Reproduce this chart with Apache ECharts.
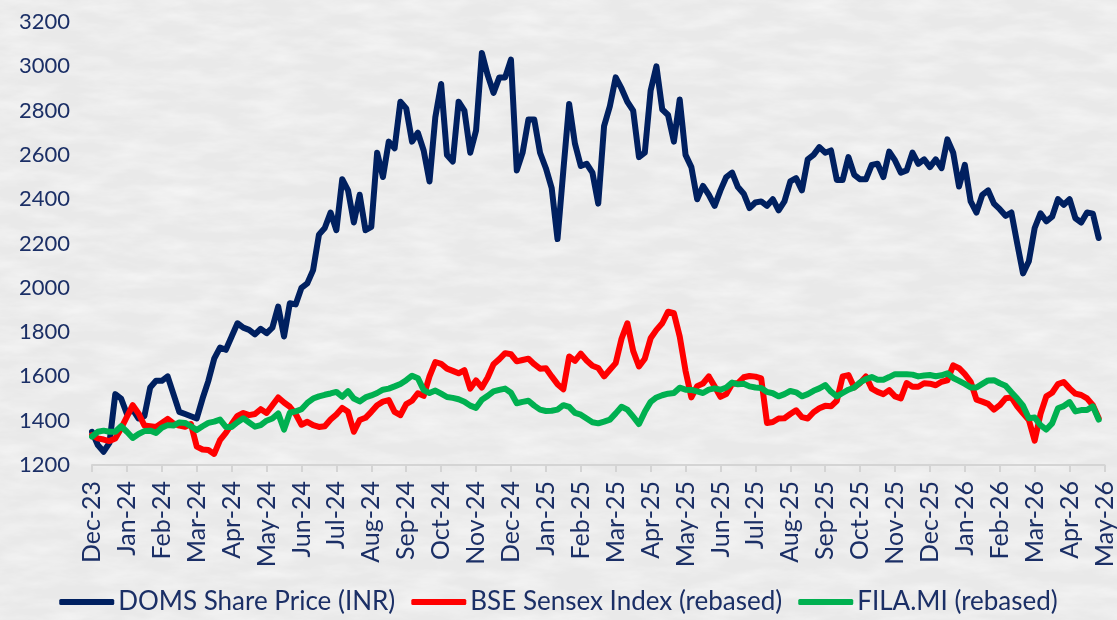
<!DOCTYPE html>
<html>
<head>
<meta charset="utf-8">
<title>DOMS vs Sensex vs FILA</title>
<script src="https://cdn.jsdelivr.net/npm/echarts@6/dist/echarts.min.js"></script>
<style>
    html, body {
        margin: 0;
        padding: 0;
        width: 1117px;
        height: 620px;
        overflow: hidden;
        background-color: #e9e9e9;
        background-image: url("data:image/svg+xml;utf8,<svg xmlns='http://www.w3.org/2000/svg' width='1117' height='620'><filter id='n'><feTurbulence type='fractalNoise' baseFrequency='0.02 0.07' numOctaves='4' seed='7'/><feColorMatrix values='0 0 0 0 1  0 0 0 0 1  0 0 0 0 1  0.9 0 0 0 -0.32'/></filter><rect width='100%' height='100%' filter='url(%23n)'/></svg>");
    }
    #price_chart {
        width: 1117px;
        height: 620px;
    }
</style>
</head>
<body>
<div id="price_chart"></div>
<script>
// ------------------------------------------------------------------------------
//  Data (sampled 6 points per month, starting at the Dec-23 tick)
// ------------------------------------------------------------------------------

var POINTS_PER_MONTH = 6;

var months = ['Dec-23','Jan-24','Feb-24','Mar-24','Apr-24','May-24','Jun-24','Jul-24','Aug-24','Sep-24',
    'Oct-24','Nov-24','Dec-24','Jan-25','Feb-25','Mar-25','Apr-25','May-25','Jun-25','Jul-25',
    'Aug-25','Sep-25','Oct-25','Nov-25','Dec-25','Jan-26','Feb-26','Mar-26','Apr-26','May-26'];

var yTicks = [1200, 3200, 200]; // min, max, step

var seriesNames = ['DOMS Share Price (INR)', 'BSE Sensex Index (rebased)', 'FILA.MI (rebased)'];

var domsPrice = [
    1350,1290,1260,1300,1520,1500,1430,1450,1410,1420,1550,1580,
    1580,1600,1520,1440,1430,1420,1410,1500,1580,1680,1730,1720,
    1780,1840,1820,1810,1790,1815,1795,1820,1915,1780,1930,1925,
    2000,2020,2080,2240,2270,2340,2260,2490,2440,2295,2420,2260,
    2275,2610,2500,2660,2630,2840,2810,2660,2700,2620,2480,2770,
    2920,2600,2570,2840,2800,2610,2710,3060,2960,2880,2950,2950,
    3030,2530,2610,2760,2760,2610,2540,2450,2220,2530,2830,2650,
    2550,2560,2520,2380,2730,2820,2950,2900,2840,2800,2590,2610,
    2890,3000,2805,2780,2660,2850,2600,2545,2400,2460,2420,2370,
    2440,2500,2520,2455,2425,2360,2385,2390,2370,2400,2350,2390,
    2480,2495,2440,2580,2600,2635,2610,2620,2487,2487,2590,2510,
    2490,2490,2555,2560,2500,2615,2575,2520,2530,2610,2560,2580,
    2545,2580,2540,2670,2610,2457,2555,2390,2340,2420,2440,2380,
    2355,2325,2340,2200,2065,2120,2270,2336,2300,2321,2400,2375,
    2400,2314,2295,2340,2335,2225
];

var sensexRebased = [
    1335,1320,1315,1308,1320,1365,1418,1470,1433,1378,1375,1372,
    1390,1408,1388,1378,1373,1385,1283,1270,1268,1250,1312,1345,
    1385,1422,1435,1425,1430,1452,1435,1470,1505,1482,1463,1430,
    1382,1395,1380,1372,1375,1405,1428,1458,1440,1350,1403,1413,
    1440,1470,1486,1493,1440,1425,1475,1490,1524,1512,1600,1665,
    1657,1635,1625,1614,1628,1545,1582,1550,1595,1655,1678,1705,
    1700,1668,1674,1680,1655,1635,1637,1600,1565,1542,1690,1670,
    1703,1672,1648,1638,1600,1630,1660,1770,1840,1715,1645,1680,
    1772,1810,1840,1892,1885,1780,1625,1505,1556,1568,1600,1555,
    1508,1520,1566,1570,1596,1602,1599,1591,1390,1394,1410,1411,
    1430,1447,1416,1410,1438,1456,1467,1465,1490,1600,1606,1550,
    1570,1600,1545,1530,1520,1538,1510,1501,1570,1553,1553,1569,
    1567,1560,1576,1582,1650,1637,1610,1576,1495,1486,1476,1450,
    1470,1501,1505,1465,1433,1403,1310,1430,1510,1526,1565,1575,
    1546,1522,1516,1501,1470,1411
];

var filaRebased = [
    1328,1350,1355,1350,1350,1375,1350,1322,1340,1353,1355,1345,
    1368,1380,1378,1392,1390,1375,1358,1375,1390,1396,1405,1372,
    1372,1393,1411,1392,1373,1380,1400,1410,1433,1360,1436,1442,
    1452,1480,1500,1510,1517,1523,1530,1508,1533,1500,1487,1505,
    1514,1525,1540,1545,1555,1566,1583,1603,1592,1538,1525,1536,
    1522,1507,1503,1497,1486,1468,1458,1495,1512,1532,1539,1545,
    1526,1479,1485,1490,1468,1450,1444,1445,1450,1470,1462,1435,
    1427,1410,1393,1388,1396,1405,1433,1463,1450,1418,1385,1440,
    1485,1505,1515,1522,1525,1549,1540,1539,1532,1525,1540,1546,
    1540,1550,1572,1564,1567,1555,1550,1548,1530,1524,1510,1520,
    1534,1528,1510,1520,1535,1546,1561,1531,1510,1525,1540,1550,
    1573,1588,1597,1585,1585,1597,1610,1610,1610,1608,1600,1604,
    1606,1601,1605,1614,1593,1580,1566,1550,1550,1566,1582,1583,
    1569,1558,1528,1500,1468,1411,1414,1380,1360,1388,1456,1466,
    1484,1442,1448,1448,1465,1405
];


// Setup module
// ------------------------------

var PriceChart = function() {

    // Text and line colors
    var textColor = '#1b2f66';
    var axisColor = '#d4d4d4';
    var fontFamily = "'Century Gothic', Lato, 'DejaVu Sans', sans-serif";

    // Turn a value list into [monthPosition, value] pairs
    var toPoints = function(values) {
        return values.map(function(v, i) {
            return [i / POINTS_PER_MONTH, v];
        });
    };

    var _buildChart = function() {
        if (typeof echarts == 'undefined') {
            console.warn('Warning - echarts.min.js is not loaded.');
            return;
        }

        var chart_element = document.getElementById('price_chart');
        var chart = echarts.init(chart_element, null, {renderer: 'canvas'});

        chart.setOption({

            // Define colors
            color: ['#002060', '#ff0000', '#00b050'],

            animation: false,

            textStyle: {
                fontFamily: fontFamily,
                color: textColor
            },

            // Setup grid
            grid: {
                left: 92,
                right: 11,
                top: 22,
                bottom: 155
            },

            // Add legend
            legend: {
                data: seriesNames,
                bottom: 0,
                left: 'center',
                icon: 'roundRect',
                itemWidth: 55,
                itemHeight: 6,
                itemGap: 16,
                textStyle: {
                    fontFamily: fontFamily,
                    fontSize: 26,
                    color: textColor,
                    padding: [0, 0, 0, -1]
                }
            },

            // Horizontal axis
            xAxis: {
                type: 'value',
                min: 0,
                max: months.length - 1,
                interval: 1,
                axisLine: {
                    show: true,
                    onZero: false,
                    lineStyle: {color: axisColor, width: 2}
                },
                axisTick: {
                    show: true,
                    length: 7,
                    lineStyle: {color: axisColor, width: 2}
                },
                splitLine: {show: false},
                axisLabel: {
                    rotate: 90,
                    margin: 16,
                    fontSize: 25,
                    color: textColor,
                    fontFamily: fontFamily,
                    formatter: function(v) {
                        return months[Math.round(v)] || '';
                    }
                }
            },

            // Vertical axis
            yAxis: {
                type: 'value',
                min: yTicks[0],
                max: yTicks[1],
                interval: yTicks[2],
                axisLine: {show: false},
                axisTick: {show: false},
                splitLine: {show: false},
                axisLabel: {
                    margin: 22,
                    fontSize: 22,
                    color: textColor,
                    fontFamily: fontFamily,
                    formatter: function(v) {
                        return String(v);
                    }
                }
            },

            // Add series
            series: [
                {
                    name: seriesNames[0],
                    type: 'line',
                    showSymbol: false,
                    data: toPoints(domsPrice),
                    lineStyle: {width: 6, join: 'round', cap: 'round'}
                },
                {
                    name: seriesNames[1],
                    type: 'line',
                    showSymbol: false,
                    data: toPoints(sensexRebased),
                    lineStyle: {width: 6, join: 'round', cap: 'round'}
                },
                {
                    name: seriesNames[2],
                    type: 'line',
                    showSymbol: false,
                    data: toPoints(filaRebased),
                    lineStyle: {width: 6, join: 'round', cap: 'round'}
                }
            ]
        });

        window.onresize = function() {
            chart.resize();
        };
    };

    return {
        init: function() {
            _buildChart();
        }
    };
}();


// Initialize module
// ------------------------------

document.addEventListener('DOMContentLoaded', function() {
    PriceChart.init();
});
</script>
</body>
</html>
